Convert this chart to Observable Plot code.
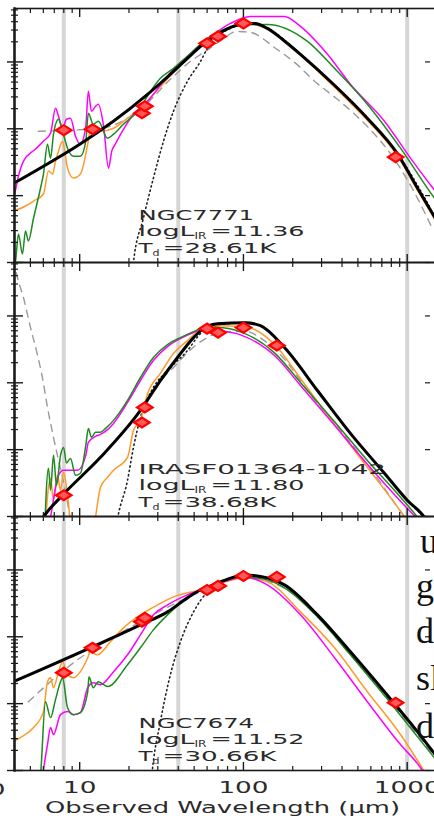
<!DOCTYPE html>
<html>
<head>
<meta charset="utf-8">
<script src="https://cdn.jsdelivr.net/npm/d3@7"></script>
<script src="https://cdn.jsdelivr.net/npm/@observablehq/plot@0.6"></script>
<style>
  html, body { margin: 0; padding: 0; background: #fff; }
  #wrap { position: relative; width: 434px; height: 821px; overflow: hidden; background: #fff; }
  #wrap svg { position: absolute; left: 0; top: 0; overflow: visible; max-width: none !important; width: 456px; height: 821px; }
  .body-text { position: absolute; font-family: "Liberation Serif", "DejaVu Serif", serif; font-size: 36px; color: #111; line-height: 1; }
</style>
</head>
<body>
<div id="wrap"></div>
<script>
// Galaxies, one panel each (top to bottom)
const panels = ["NGC7771", "IRASF01364-1042", "NGC7674"];
const logLIR = ["11.36", "11.80", "11.52"];
const dustTemp = ["28.61", "38.68", "30.66"];

// Axis ticks
const wavelengthTicksMajor = [10, 100, 1000];
const wavelengthTicksMinor = [4, 5, 6, 7, 8, 9, 20, 30, 40, 50, 60, 70, 80, 90,
  200, 300, 400, 500, 600, 700, 800, 900, 2000];
const fluxTicksMajor = [0.01, 0.1, 1, 10];
const fluxTicksMinor = [0.02, 0.03, 0.04, 0.05, 0.06, 0.07, 0.08, 0.09,
  0.2, 0.3, 0.4, 0.5, 0.6, 0.7, 0.8, 0.9, 2, 3, 4, 5, 6, 7, 8, 9, 20, 30, 40, 50, 60];
// 8, 40 and 1000 micron reference wavelengths
const bandEdges = [8, 40, 1000];

// [wavelength (micron), flux density (Jy)]
// ---- NGC7771 ----
const ngc7771Total = [[3.9,0.150],[25.2,3.07],[31.1,4.8],[37.4,7.24],[45.5,11.3],[54.7,17.1],[69.4,25.8],[83.3,32.8],[105,37.7],[118,37.7],[140,31.7],[178,20.6],[223,13.0],[360,4.48],[571,1.44],[875,0.418],[1154,0.130],[1596,0.034]];
const ngc7771Magenta = [[3.9,0.09],[4.0,0.106],[4.23,0.196],[4.54,0.328],[5.38,0.497],[6.01,0.653],[6.64,0.859],[7.12,2.03],[7.43,1.54],[7.86,1.02],[8.31,1.39],[8.79,1.44],[9.43,0.776],[10.1,0.589],[10.9,1.09],[11.3,3.64],[11.8,1.83],[12.5,2.17],[13.0,2.33],[14.0,1.09],[15.0,0.258],[15.7,0.463],[16.5,0.589],[17.8,0.830],[21.3,1.65],[26.0,2.58],[31.1,4.48],[37.4,7.76],[45.5,12.1],[54.7,18.3],[65.6,25.8],[83.3,37.7],[110,48.0],[178,48.0],[223,34.0],[326,13.0],[450,4.63],[726,1.30],[1047,0.364],[1596,0.092]];
const ngc7771Green = [[3.9,0.008],[4.06,0.0106],[4.23,0.0267],[4.47,0.0134],[4.67,0.0296],[4.86,0.0210],[5.23,0.0463],[5.77,0.130],[6.01,0.210],[6.36,0.589],[6.64,0.364],[6.92,0.830],[7.43,1.39],[7.86,0.920],[8.43,0.513],[9.17,0.390],[10.1,0.390],[10.9,0.653],[11.3,1.71],[12.1,1.17],[13.0,1.30],[14.8,0.724],[16.1,0.830],[18.5,1.17],[22.6,1.83],[27.1,3.64],[31.1,5.69],[37.4,8.02],[45.5,12.1],[54.7,18.3],[69.4,27.7],[95,35.2],[140,36.4],[246,20.3],[360,8.02],[571,2.33],[910,0.513],[1466,0.092],[1596,0.070]];
const ngc7771Orange = [[3.9,0.058],[4.67,0.070],[5.23,0.083],[6.01,0.106],[6.45,0.233],[6.83,0.210],[7.12,0.328],[7.43,0.463],[7.86,0.653],[8.1,0.463],[8.43,0.258],[9.17,0.183],[10.1,0.210],[11.2,0.589],[11.6,0.920],[13.4,0.920],[16.1,1.02],[19.6,1.44],[23.5,2.03],[28.2,3.28],[33.4,5.13],[37.4,7.0],[54.7,17.1],[69.4,25.8],[105,37.7],[140,30.9],[223,12.6],[360,4.18],[571,1.34],[875,0.39],[1154,0.121],[1596,0.0317]];
const ngc7771Dashed = [[5.6,0.92],[13.4,1.02],[23.5,1.96],[35.8,5.5],[47.5,10.2],[58.6,14.4],[74.5,21.7],[91,28.6],[110,27.7],[157,16.0],[212,9.2],[272,5.13],[368,2.87],[478,1.65],[592,0.986],[810,0.39],[1070,0.130],[1400,0.0352]];
const ngc7771Dotted = [[21.0,0.006],[21.3,0.0099],[24.5,0.046],[28.2,0.183],[32.5,0.653],[37.4,1.83],[45.5,5.13],[54.7,10.2],[60.3,16.0],[69.4,24.1],[83.3,31.7],[105,37.7],[140,31.7],[223,13.0],[360,4.48],[571,1.44],[875,0.418],[1596,0.034]];
const ngc7771Phot = [[8,0.953],[12,0.985],[24,1.71],[25,2.17],[60,19.0],[70,24.1],[100,37.7],[850,0.377]];

// ---- IRASF01364-1042 ----
const iras01364Total = [[5.6,0.0075],[6.0,0.0098],[7.86,0.0208],[13.4,0.0767],[23.5,0.386],[31.1,1.08],[39.6,2.39],[49.6,4.74],[57,6.46],[69.4,7.67],[102,7.94],[127,7.16],[178,3.37],[283,0.767],[450,0.175],[726,0.0443],[1000,0.0175],[1273,0.0098],[1500,0.005]];
const iras01364Magenta = [[6.4,0.006],[6.64,0.0098],[7.43,0.0413],[7.97,0.0491],[9.70,0.0491],[10.9,0.0822],[11.3,0.1285],[12.5,0.158],[13.4,0.169],[16.1,0.247],[19.6,0.508],[23.5,1.08],[28.2,2.15],[34.4,3.48],[41.2,4.58],[49.6,5.64],[57,6.25],[69.4,6.04],[95,5.26],[157,2.47],[223,0.912],[360,0.231],[571,0.0604],[910,0.0169],[1154,0.0091],[1400,0.005]];
const iras01364Green = [[6.1,0.006],[6.45,0.0526],[6.64,0.0247],[6.92,0.0822],[7.22,0.0293],[7.64,0.0822],[7.97,0.108],[8.31,0.063],[8.79,0.074],[9.43,0.0413],[10.1,0.0443],[10.9,0.116],[11.3,0.208],[11.8,0.153],[12.5,0.182],[13.4,0.182],[14.4,0.208],[16.1,0.274],[19.6,0.545],[23.5,1.2],[28.2,2.39],[34.4,3.73],[41.2,4.74],[49.6,5.83],[57,6.69],[69.4,6.69],[95,5.83],[157,2.71],[223,1.01],[360,0.262],[571,0.069],[910,0.0194],[1154,0.0098],[1400,0.005]];
const iras01364Orange = [[6.1,0.005],[6.64,0.0372],[6.92,0.0175],[7.32,0.0413],[7.64,0.0247],[7.97,0.0458],[8.43,0.0208],[9.04,0.005],[12.0,0.005],[12.5,0.0098],[13.4,0.0274],[14.8,0.0386],[16.1,0.0491],[19.6,0.0767],[21.3,0.194],[23.5,0.274],[26.0,0.692],[31.1,1.38],[37.4,2.74],[45.5,4.28],[54.7,6.25],[69.4,7.16],[102,6.92],[157,3.61],[223,1.16],[360,0.239],[571,0.0544],[962,0.0098],[1150,0.005]];
const iras01364DashedHot = [[3.94,69],[4.17,37.3],[4.54,18.7],[5.01,6.68],[5.50,2.74],[5.92,1.2],[6.36,0.428],[6.92,0.153],[7.43,0.069],[7.86,0.0386],[8.79,0.0088]];
const iras01364DashedCold = [[29,0.8],[33,1.25],[37.4,1.69],[45.5,2.83],[58.6,4.58],[77.6,5.83],[103,5.83],[134,4.28],[181,2.15],[246,0.767],[391,0.194],[605,0.0491],[875,0.0138],[1047,0.0074]];
const iras01364Dotted = [[16.5,0.006],[17.1,0.0098],[19.6,0.0348],[21.3,0.108],[23.5,0.303],[28.2,0.851],[34.4,1.53],[45.5,3.03],[54.7,5.45],[69.4,7.16],[102,7.94],[127,7.16],[178,3.37],[283,0.767],[450,0.175],[726,0.0443],[1000,0.0175],[1273,0.0098]];
const iras01364Phot = [[8,0.0208],[24,0.255],[25,0.428],[60,6.46],[70,5.64],[100,6.69],[160,3.61]];

// ---- NGC7674 ----
const ngc7674Total = [[3.9,0.211],[23.5,1.51],[34.4,2.36],[45.5,3.82],[54.7,5.02],[65.6,5.97],[102,8.41],[140,7.6],[178,5.97],[283,2.13],[450,0.597],[726,0.151],[1154,0.0382],[1596,0.0136]];
const ngc7674Magenta = [[5.9,0.006],[6.01,0.0097],[6.36,0.0244],[6.64,0.0439],[6.92,0.0345],[7.64,0.0685],[8.43,0.076],[9.17,0.0685],[10.1,0.0734],[11.2,0.173],[12.1,0.206],[13.4,0.192],[16.1,0.301],[19.6,0.538],[23.5,1.07],[28.2,2.13],[34.4,3.0],[45.5,4.24],[54.7,5.02],[72.4,6.4],[102,7.87],[140,5.97],[223,2.13],[360,0.486],[571,0.107],[910,0.0244],[1203,0.0111],[1400,0.006]];
const ngc7674Green = [[5.6,0.005],[5.77,0.0087],[6.18,0.107],[6.64,0.0618],[7.12,0.115],[7.64,0.213],[7.86,0.244],[8.43,0.087],[9.17,0.0685],[10.1,0.0734],[11.2,0.151],[11.4,0.253],[12.1,0.173],[13.0,0.213],[14.0,0.192],[14.8,0.18],[19.6,0.382],[23.5,0.685],[28.2,1.27],[34.4,2.13],[45.5,3.82],[54.7,5.02],[102,7.87],[140,7.1],[178,5.38],[283,1.99],[450,0.538],[726,0.132],[1154,0.0321],[1596,0.0119]];
const ngc7674Orange = [[3.9,0.027],[4.35,0.0311],[5.23,0.0439],[6.01,0.076],[6.36,0.213],[6.64,0.244],[6.92,0.173],[7.43,0.301],[7.86,0.424],[8.43,0.271],[9.17,0.244],[10.1,0.301],[11.2,0.486],[11.6,0.597],[12.8,0.538],[15.4,0.841],[18.5,1.36],[23.5,2.13],[29.9,3.0],[37.4,3.95],[54.7,5.02],[102,7.6],[140,6.62],[223,2.36],[360,0.685],[571,0.151],[910,0.0345],[1273,0.0097],[1500,0.005]];
const ngc7674Dashed = [[4.86,0.107],[10.1,0.486],[13.4,0.76],[23.5,1.68],[35.8,2.9],[54.7,4.7],[102,7.6],[178,5.38],[283,1.99],[450,0.538],[726,0.137],[1154,0.0345],[1596,0.0123]];
const ngc7674Dotted = [[27.0,0.005],[27.8,0.0103],[31.1,0.0538],[35.8,0.271],[41.2,0.841],[49.6,2.36],[60.3,4.7],[72.4,6.4],[102,8.13],[140,7.5],[178,5.9],[283,2.1],[450,0.59],[726,0.149],[1154,0.0377],[1596,0.0134]];
const ngc7674Phot = [[8,0.29],[12,0.685],[24,1.68],[25,1.92],[60,5.02],[70,5.77],[100,8.13],[160,7.87],[850,0.103]];

// ---- build long tables for the faceted plot ----
const series = [
  [panels[0], "total", ngc7771Total], [panels[0], "magenta", ngc7771Magenta],
  [panels[0], "green", ngc7771Green], [panels[0], "orange", ngc7771Orange],
  [panels[0], "dashed", ngc7771Dashed], [panels[0], "dotted", ngc7771Dotted],
  [panels[1], "total", iras01364Total], [panels[1], "magenta", iras01364Magenta],
  [panels[1], "green", iras01364Green], [panels[1], "orange", iras01364Orange],
  [panels[1], "dashed", iras01364DashedHot, "hot"], [panels[1], "dashed", iras01364DashedCold, "cold"],
  [panels[1], "dotted", iras01364Dotted],
  [panels[2], "total", ngc7674Total], [panels[2], "magenta", ngc7674Magenta],
  [panels[2], "green", ngc7674Green], [panels[2], "orange", ngc7674Orange],
  [panels[2], "dashed", ngc7674Dashed], [panels[2], "dotted", ngc7674Dotted]
];
const curveRows = series.flatMap(([panel, comp, arr, part = ""]) =>
  arr.map(([x, y]) => ({panel, comp, key: panel + comp + part, x, y})));
const photRows = [[panels[0], ngc7771Phot], [panels[1], iras01364Phot], [panels[2], ngc7674Phot]]
  .flatMap(([panel, arr]) => arr.map(([x, y]) => ({panel, x, y})));
const labelRows = panels.map((p, i) => ({panel: p, name: p, lir: logLIR[i], td: dustTemp[i]}));
const titleRows = [{panel: panels[2], t: "Observed Wavelength (\u03bcm)"}];
const neighbourRows = [{panel: panels[2], t: "1000"}];

const comp = (c) => curveRows.filter(d => d.comp === c);
const curve = (c, style) => Plot.line(comp(c), {x: "x", y: "y", fy: "panel", z: "key", clip: true, curve: "monotone-x", ...style});

// flattened diamond marker for photometry
const wideDiamond = {
  draw(context, size) {
    const r = Math.sqrt(size / Math.PI);
    context.moveTo(-1.55 * r, 0);
    context.lineTo(0, -r);
    context.lineTo(1.55 * r, 0);
    context.lineTo(0, r);
    context.closePath();
  }
};

const noText = () => "";
const ink = "#1a1a1a";

const chart = Plot.plot({
  width: 456,
  height: 821,
  marginLeft: 14,
  marginRight: 0,
  marginTop: 7,
  marginBottom: 50,
  x: {type: "log", domain: [4, 2000], axis: null},
  y: {type: "log", domain: [0.01, 63], axis: null},
  fy: {domain: panels, padding: 0, axis: null},
  style: {fontFamily: "DejaVu Sans", background: "white", color: ink},
  marks: [
    Plot.ruleX(bandEdges, {stroke: "#d6d6d6", strokeWidth: 4}),
    curve("dashed", {stroke: "#9a9a9a", strokeWidth: 1.4, strokeDasharray: "7,6"}),
    curve("dotted", {stroke: "#222", strokeWidth: 1.6, strokeDasharray: "1.2,3.2", strokeLinecap: "round"}),
    curve("orange", {stroke: "#ff9a2a", strokeWidth: 1.5}),
    curve("magenta", {stroke: "#ff00ff", strokeWidth: 1.5}),
    curve("green", {stroke: "#1f8a1f", strokeWidth: 1.5}),
    curve("total", {stroke: "#000", strokeWidth: 3}),
    Plot.dot(photRows, {x: "x", y: "y", fy: "panel", symbol: wideDiamond, r: 5, fill: "#ff5a5a", stroke: "#ff0000", strokeWidth: 2.2}),
    // inward and outward ticks on the left axis
    Plot.axisY(fluxTicksMinor, {anchor: "left", tickSize: 3, tickFormat: noText, label: null, strokeWidth: 1.2, stroke: ink}),
    Plot.axisY(fluxTicksMinor, {anchor: "left", tickSize: -4, tickFormat: noText, label: null, strokeWidth: 1.2, stroke: ink}),
    Plot.axisY(fluxTicksMajor, {anchor: "left", tickSize: 7, tickFormat: noText, label: null, strokeWidth: 1.4, stroke: ink}),
    Plot.axisY(fluxTicksMajor, {anchor: "left", tickSize: -9, tickFormat: noText, label: null, strokeWidth: 1.4, stroke: ink}),
    Plot.axisY(fluxTicksMajor, {anchor: "right", tickSize: -5, dx: -27, tickFormat: noText, label: null, strokeWidth: 1.2, stroke: ink}),
    // inward ticks on top and bottom of every panel
    Plot.axisX(wavelengthTicksMinor, {anchor: "top", facetAnchor: null, tickSize: -4, tickFormat: noText, label: null, strokeWidth: 1.2, stroke: ink}),
    Plot.axisX(wavelengthTicksMajor, {anchor: "top", facetAnchor: null, tickSize: -8, tickFormat: noText, label: null, strokeWidth: 1.4, stroke: ink}),
    Plot.axisX(wavelengthTicksMinor, {anchor: "bottom", facetAnchor: null, tickSize: -4, tickFormat: noText, label: null, strokeWidth: 1.2, stroke: ink}),
    Plot.axisX(wavelengthTicksMajor, {anchor: "bottom", facetAnchor: null, tickSize: -8, tickFormat: noText, label: null, strokeWidth: 1.4, stroke: ink}),
    Plot.axisX(wavelengthTicksMajor, {anchor: "bottom", tickSize: 0, tickPadding: 11, tickFormat: d => String(d), label: null, fontSize: 16.5, fill: "#2a2a2a", className: "xtick-labels"}),
    Plot.frame({stroke: ink, strokeWidth: 1.6}),
    Plot.frame({anchor: "left", stroke: ink, strokeWidth: 2.4}),
    // galaxy annotations
    Plot.text(labelRows, {fy: "panel", text: "name", frameAnchor: "bottom-left", dx: 124, dy: -43, textAnchor: "start", lineAnchor: "bottom", fontSize: 14.5, fill: "#2a2a2a", className: "name-label"}),
    Plot.text(labelRows, {fy: "panel", text: d => "logL_IR=" + d.lir, frameAnchor: "bottom-left", dx: 124, dy: -27, textAnchor: "start", lineAnchor: "bottom", fontSize: 14.5, fill: "#2a2a2a", className: "lir-label"}),
    Plot.text(labelRows, {fy: "panel", text: d => "T_d=" + d.td + "K", frameAnchor: "bottom-left", dx: 124, dy: -9.5, textAnchor: "start", lineAnchor: "bottom", fontSize: 14.5, fill: "#2a2a2a", className: "td-label"}),
    Plot.text(titleRows, {fy: "panel", text: "t", frameAnchor: "bottom-left", dx: 208, dy: 42, textAnchor: "middle", lineAnchor: "bottom", fontSize: 16, fill: "#2a2a2a", className: "x-title"}),
    Plot.text(neighbourRows, {fy: "panel", text: "t", frameAnchor: "bottom-left", dx: -9, dy: 24, textAnchor: "end", lineAnchor: "bottom", fontSize: 16.5, fill: "#2a2a2a", className: "neighbour-label"})
  ]
});

const wrap = document.getElementById("wrap");
chart.style.maxWidth = "none";
wrap.appendChild(chart);

// widen the vector-style lettering
const root = d3.select(chart);
const ns = "http://www.w3.org/2000/svg";
const stretch = (el, w) => { el.setAttribute("textLength", w); el.setAttribute("lengthAdjust", "spacingAndGlyphs"); };
root.selectAll(".xtick-labels text, .neighbour-label text").each(function () {
  const s = this.textContent; if (s) stretch(this, 16.7 * s.length);
});
root.selectAll(".name-label text").each(function () { stretch(this, 16.5 * this.textContent.length); });
root.selectAll(".x-title text").each(function () { stretch(this, 355); });
// main text, small lowered subscript, then the rest of the line; each piece gets its own width
function subscripted(el, head, sub, tail, widths) {
  el.textContent = "";
  const a = document.createElementNS(ns, "tspan"); a.textContent = head; stretch(a, widths[0]); el.appendChild(a);
  const b = document.createElementNS(ns, "tspan"); b.textContent = sub; b.setAttribute("dy", "3"); b.setAttribute("font-size", "8.5"); stretch(b, widths[1]); el.appendChild(b);
  const c = document.createElementNS(ns, "tspan"); c.textContent = tail; c.setAttribute("dy", "-3"); c.setAttribute("dx", widths[2]); stretch(c, widths[3]); el.appendChild(c);
}
root.selectAll(".lir-label text").each(function () {
  const m = this.textContent.match(/^logL_IR(=.*)$/); if (m) subscripted(this, "logL", "IR", m[1], [56, 12, 4, 94]);
});
root.selectAll(".td-label text").each(function () {
  const m = this.textContent.match(/^T_d(=.*)$/); if (m) subscripted(this, "T", "d", m[1], [14, 7, 3, 114]);
});

// neighbouring column of running text
const bodyLines = ["u", "g", "d", "sl", "d"];
const bodyTops = [523, 568, 613, 660, 708];
bodyLines.forEach((t, i) => {
  const s = document.createElement("div");
  s.className = "body-text";
  s.textContent = t;
  s.style.left = (t === "u" ? 420 : 416) + "px";
  s.style.top = bodyTops[i] + "px";
  wrap.appendChild(s);
});
</script>
</body>
</html>
